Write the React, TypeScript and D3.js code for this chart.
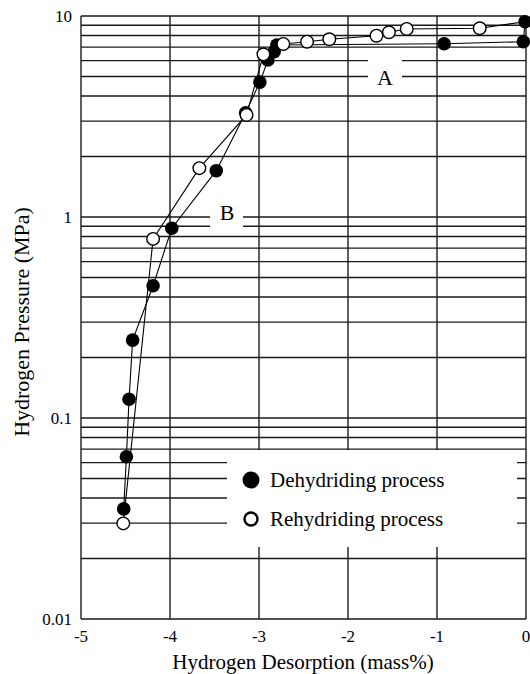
import React from "react";
import * as d3 from "d3";

// dehydriding: starts at top right, pressure falls as hydrogen leaves
const dehydX = [-0.01, -0.03, -0.92, -2.8, -2.83, -2.9, -2.99, -3.15, -3.48, -3.98, -4.19, -4.42, -4.46, -4.49, -4.52];
const dehydP = [9.37, 7.45, 7.28, 7.17, 6.64, 6.04, 4.69, 3.3, 1.7, 0.879, 0.455, 0.244, 0.124, 0.0642, 0.0353];

// rehydriding: back from the bottom
const rehydX = [-4.525, -4.19, -3.67, -3.14, -2.95, -2.727, -2.46, -2.21, -1.68, -1.54, -1.34, -0.52];
const rehydP = [0.0299, 0.778, 1.75, 3.22, 6.45, 7.26, 7.45, 7.66, 7.98, 8.3, 8.62, 8.69];

const xTicks = [-5, -4, -3, -2, -1, 0];
const yTicks = [0.01, 0.1, 1, 10];
const yTickLabels = ["0.01", "0.1", "1", "10"];

const legendLabels = ["Dehydriding process", "Rehydriding process"];

const W = 530;
const H = 674;
const m = { left: 81, right: 526, top: 16, bottom: 619 };
const font = "Liberation Serif, Times New Roman, DejaVu Serif, serif";

export default function App() {
    const x = d3.scaleLinear().domain([-5, 0]).range([m.left, m.right]);
    const y = d3.scaleLog().domain([0.01, 10]).range([m.bottom, m.top]);

    // minor grid 2..9 in each decade
    const gridY: number[] = [];
    [0.01, 0.1, 1].forEach(d => {
        for (let k = 1; k <= 9; k++) gridY.push(d * k);
    });
    gridY.push(10);

    const line = d3.line<[number, number]>().x(d => x(d[0])).y(d => y(d[1]));
    const dehyd: [number, number][] = dehydX.map((v, i) => [v, dehydP[i]]);
    const rehyd: [number, number][] = rehydX.map((v, i) => [v, rehydP[i]]);
    // the rehydriding run closes the loop at the starting point
    const rehydLine = [...rehyd, dehyd[0]];

    const gridStroke = "#1a1a1a";

    return (
        <svg width={W} height={H} style={{ position: "absolute", left: 0, top: 0, background: "#fff", fontFamily: font }}>
            <rect width={W} height={H} fill="#fff" />
            {/* grid */}
            {gridY.map((v, i) => (
                <line key={"gy" + i} x1={m.left} x2={m.right} y1={y(v)} y2={y(v)} stroke={gridStroke} strokeWidth={1.4} />
            ))}
            {xTicks.map(v => (
                <line key={"gx" + v} x1={x(v)} x2={x(v)} y1={m.top} y2={m.bottom} stroke={gridStroke} strokeWidth={1.4} />
            ))}

            {/* white patches behind labels and legend */}
            <rect x={227} y={450} width={290} height={97} fill="#fff" />
            <rect x={368} y={54} width={34} height={32} fill="#fff" />
            <rect x={210} y={199} width={33} height={32} fill="#fff" />

            <text x={385} y={85} fontSize={22} textAnchor="middle">A</text>
            <text x={227} y={220} fontSize={22} textAnchor="middle">B</text>

            {/* tick labels */}
            {xTicks.map(v => (
                <text key={"xt" + v} x={x(v)} y={642} fontSize={17} textAnchor="middle">
                    {v === 0 ? "0" : String(v)}
                </text>
            ))}
            {yTicks.map((v, i) => (
                <text key={"yt" + v} x={72} y={y(v) + 6} fontSize={17} textAnchor="end">
                    {yTickLabels[i]}
                </text>
            ))}

            {/* axis titles */}
            <text x={303} y={669} fontSize={21} textAnchor="middle">
                Hydrogen Desorption (mass%)
            </text>
            <text transform={`translate(29, 322) rotate(-90)`} fontSize={22} textAnchor="middle">
                Hydrogen Pressure (MPa)
            </text>

            {/* series lines */}
            <path d={line(dehyd) || ""} fill="none" stroke="#000" strokeWidth={1.1} />
            <path d={line(rehydLine) || ""} fill="none" stroke="#000" strokeWidth={1.1} />

            {/* markers */}
            {dehyd.map((d, i) => (
                <circle key={"dm" + i} cx={x(d[0])} cy={y(d[1])} r={6.8} fill="#000" />
            ))}
            {rehyd.map((d, i) => (
                <circle key={"rm" + i} cx={x(d[0])} cy={y(d[1])} r={6.3} fill="#fff" stroke="#000" strokeWidth={1.4} />
            ))}

            {/* legend */}
            <circle cx={251} cy={480} r={8.5} fill="#000" />
            <text x={270} y={487} fontSize={21}>{legendLabels[0]}</text>
            <circle cx={251} cy={519} r={6.5} fill="#fff" stroke="#000" strokeWidth={2.4} />
            <text x={270} y={526} fontSize={21}>{legendLabels[1]}</text>
        </svg>
    );
}
